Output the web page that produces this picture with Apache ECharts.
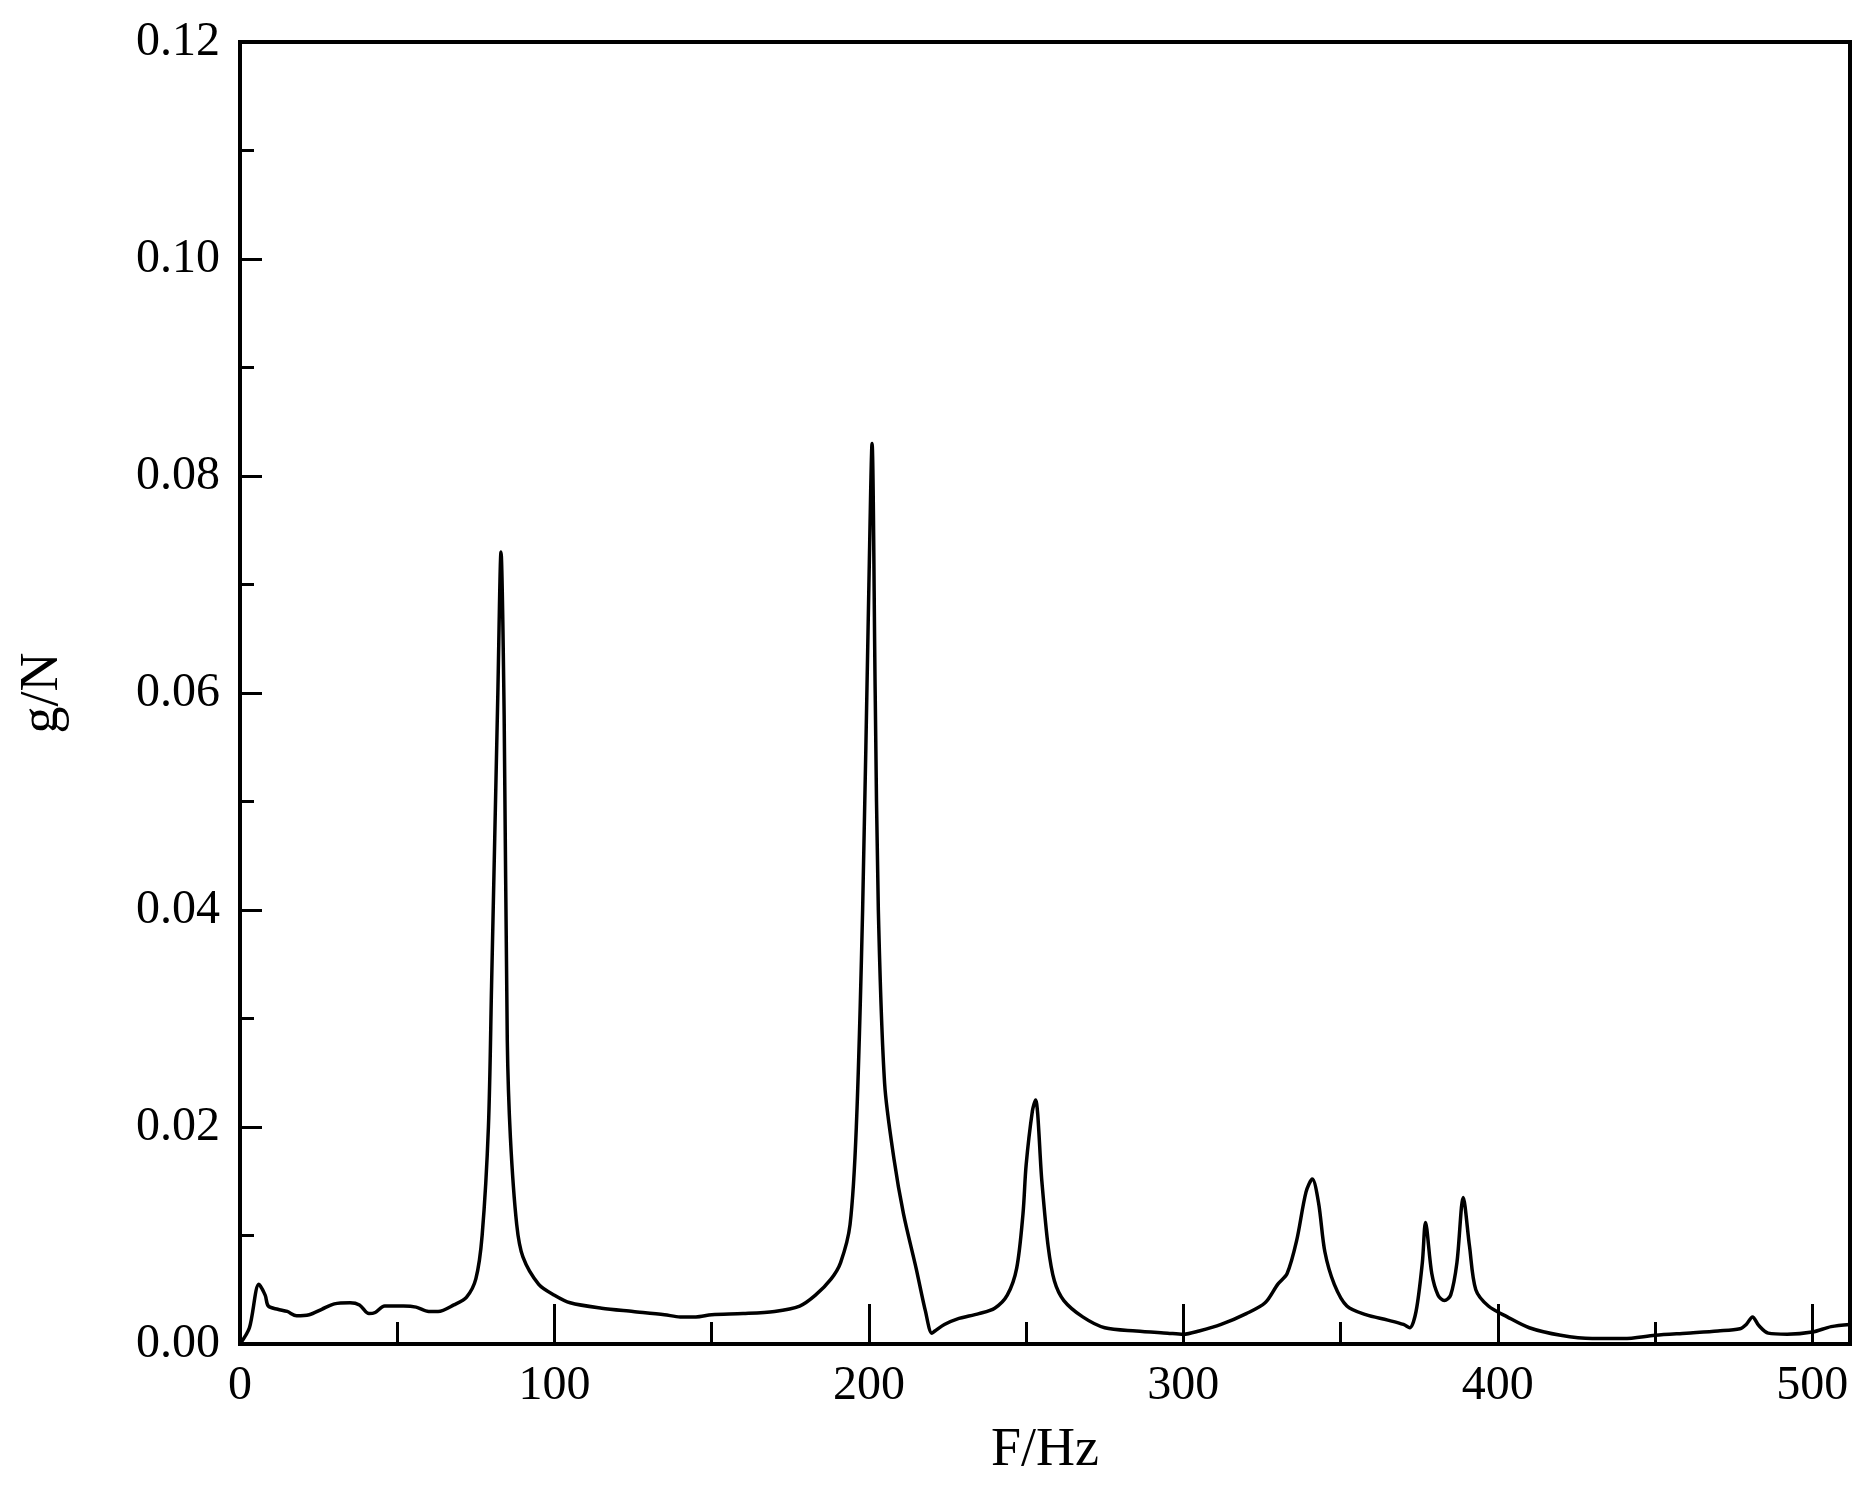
<!DOCTYPE html><html><head><meta charset="utf-8"><script src="https://cdn.jsdelivr.net/npm/echarts@6/dist/echarts.min.js"></script></head><body style="margin:0"><div id="c" style="width:1871px;height:1489px"></div><script>
const freq=[0,3,6,8,9,12,15,18,22,26,30,35,38,41,43,46,52,56,60,63,68,72,75,77,79,80,82,83,84,85,86,88,90,95,100,105,115,125,135,140,145,150,160,170,178,183,188,191,194,196,198,200,201,202,203,205,208,211,215,218,220,221,224,228,235,240,244,247,249,250,252,253,255,257,259,262,268,275,285,295,300,305,312,320,326,330,333,336,339,341,343,345,348,352,358,365,370,372,374,376,377,379,381,383,385,387,389,391,393,397,403,410,420,430,440,450,460,470,477,479,481,483,486,492,500,506,512];
const amp=[0,0.0015,0.0055,0.0045,0.0035,0.0032,0.003,0.0026,0.0027,0.0032,0.0037,0.0038,0.0036,0.0028,0.0029,0.0035,0.0035,0.0034,0.003,0.003,0.0036,0.0043,0.006,0.01,0.02,0.033,0.06,0.073,0.058,0.028,0.019,0.011,0.008,0.0055,0.0045,0.0038,0.0033,0.003,0.0027,0.0025,0.0025,0.0027,0.0028,0.003,0.0035,0.0045,0.006,0.0075,0.011,0.02,0.04,0.07,0.083,0.06,0.04,0.024,0.017,0.012,0.007,0.003,0.001,0.0012,0.0018,0.0023,0.0028,0.0033,0.0045,0.007,0.012,0.0165,0.0215,0.0225,0.015,0.009,0.0058,0.004,0.0025,0.0015,0.0012,0.001,0.0009,0.0012,0.0018,0.0028,0.0038,0.0055,0.0065,0.0095,0.014,0.0152,0.013,0.0085,0.0055,0.0035,0.0027,0.0022,0.0018,0.0015,0.003,0.0075,0.0112,0.0065,0.0045,0.004,0.0045,0.0075,0.0135,0.009,0.005,0.0035,0.0025,0.0015,0.0008,0.0005,0.0005,0.0008,0.001,0.0012,0.0014,0.0018,0.0025,0.0017,0.001,0.0009,0.0011,0.0016,0.0018];
const font='"Liberation Serif","DejaVu Serif",serif';
const ch=echarts.init(document.getElementById('c'));
ch.setOption({animation:false,backgroundColor:'#fff',
grid:{left:240,right:21,top:42,bottom:145,show:true,borderColor:'#000',borderWidth:4},
xAxis:{type:'value',min:0,max:512,interval:100,name:'F/Hz',nameLocation:'middle',nameGap:80,nameTextStyle:{fontFamily:font,fontSize:54,color:'#000'},
 axisLine:{lineStyle:{color:'#000',width:4}},axisTick:{inside:true,length:40,lineStyle:{color:'#000',width:3}},minorTick:{show:true,splitNumber:2,length:22,lineStyle:{color:'#000',width:3}},
 axisLabel:{fontFamily:font,fontSize:48,color:'#000',margin:18,showMaxLabel:false},splitLine:{show:false}},
yAxis:{type:'value',min:0,max:0.12,interval:0.02,name:'g/N',nameLocation:'middle',nameGap:170,nameTextStyle:{fontFamily:font,fontSize:54,color:'#000'},
 axisLine:{lineStyle:{color:'#000',width:4}},axisTick:{inside:true,length:22,lineStyle:{color:'#000',width:3}},minorTick:{show:true,splitNumber:2,length:14,lineStyle:{color:'#000',width:3}},
 axisLabel:{fontFamily:font,fontSize:48,color:'#000',margin:20,formatter:v=>v.toFixed(2)},splitLine:{show:false}},
series:[{type:'line',data:freq.map((f,i)=>[f,amp[i]]),smooth:0.3,showSymbol:false,lineStyle:{color:'#000',width:3.5}}]});
</script></body></html>
